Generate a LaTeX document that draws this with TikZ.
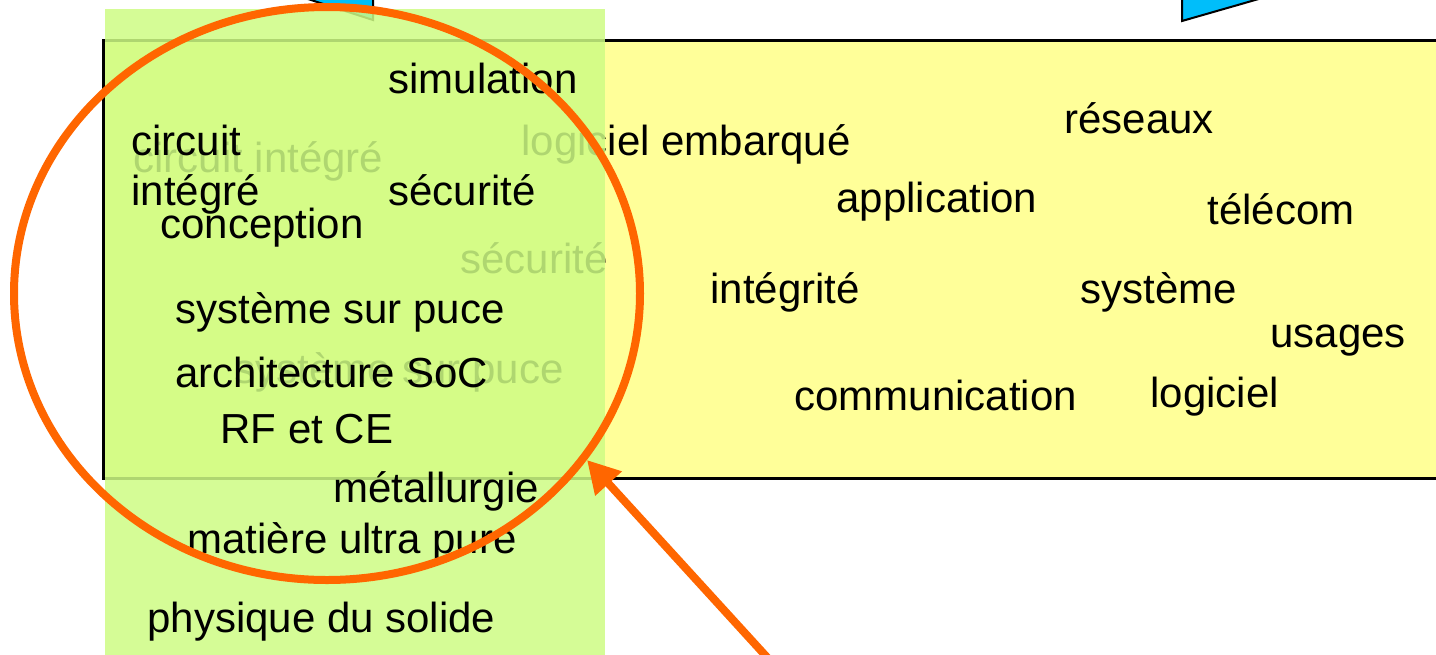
\documentclass[tikz,border=0pt]{standalone}
\usepackage{fontspec}
\setmainfont{Liberation Sans}
\usetikzlibrary{arrows.meta}
\definecolor{boxyellow}{RGB}{255,255,153}
\definecolor{boxgreen}{RGB}{206,252,132}
\definecolor{ringorange}{RGB}{255,102,0}
\definecolor{tabblue}{RGB}{0,190,250}
\tikzset{
  lbl/.style={font=\fontsize{21pt}{25pt}\selectfont, inner sep=0pt, anchor=base west},
  tab/.style={fill=tabblue, draw=black, line width=1pt},
  ring/.style={draw=ringorange, line width=4pt},
  pointer/.style={draw=ringorange, line width=4pt, -{Triangle[length=16pt,width=17pt]}}
}
\begin{document}
\begin{tikzpicture}[x=0.5pt,y=-0.5pt]
\useasboundingbox (0,0) rectangle (1436,654);
\clip (0,0) rectangle (1436,654);
% blue tabs at the top
\path[tab] (280,-10) -- (373,20) -- (373,-10) -- cycle;
\path[tab] (1182,-10) -- (1182,21) -- (1290,-10) -- cycle;
% yellow box
\node[draw=black, line width=1.5pt, fill=boxyellow, minimum width=669pt, minimum height=219pt, inner sep=0pt, anchor=north west] (ybox) at (102,39) {};
\node[lbl] (ci) at (133,172) {circuit intégré};
\node[lbl] (le) at (521,155) {logiciel embarqué};
\node[lbl] (sy1) at (460,273) {sécurité};
\node[lbl] (ssp1) at (234,383) {système sur puce};
\node[lbl] (res) at (1064,133) {réseaux};
\node[lbl] (app) at (836,212) {application};
\node[lbl] (tel) at (1207,224) {télécom};
\node[lbl] (integ) at (710,303) {intégrité};
\node[lbl] (sys) at (1080,303) {système};
\node[lbl] (usa) at (1270,347) {usages};
\node[lbl] (com) at (794,410) {communication};
\node[lbl] (log) at (1150,407) {logiciel};
% green translucent box
\node[fill=boxgreen, fill opacity=0.85, minimum width=250pt, minimum height=330pt, inner sep=0pt, anchor=north west] (gbox) at (105,9) {};
\node[lbl] (sim) at (388,93) {simulation};
\node[lbl] (circ) at (131,155) {circuit};
\node[lbl] (intg) at (131,205) {intégré};
\node[lbl] (sec) at (388,205) {sécurité};
\node[lbl] (conc) at (160,238) {conception};
\node[lbl] (ssp) at (175,323) {système sur puce};
\node[lbl] (arch) at (175,387) {architecture SoC};
\node[lbl] (rfce) at (220,443) {RF et CE};
\node[lbl] (met) at (333,502) {métallurgie};
\node[lbl] (mat) at (187,553) {matière ultra pure};
\node[lbl] (phys) at (147,632) {physique du solide};
% orange ring and arrow
\draw[ring] (327,293.5) ellipse [x radius=313, y radius=286.5];
\coordinate (tail) at (775,666);
\coordinate (tip) at (587,460);
\draw[pointer] (tail) -- (tip);
\end{tikzpicture}
\end{document}
